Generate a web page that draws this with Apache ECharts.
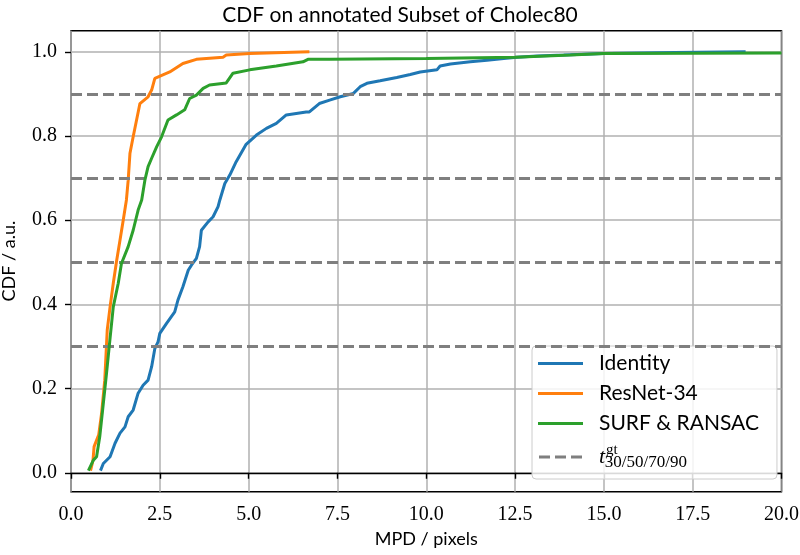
<!DOCTYPE html>
<html><head><meta charset="utf-8">
<script src="https://cdn.jsdelivr.net/npm/echarts@6/dist/echarts.min.js"></script>
<style>html,body{margin:0;padding:0;background:#fff}#c{width:800px;height:555px}</style>
</head><body><div id="c"></div>
<script>
const chartTitle = 'CDF on annotated Subset of Cholec80';
const xAxisName = 'MPD / pixels';
const yAxisName = 'CDF / a.u.';
const seriesNames = ['Identity', 'ResNet-34', 'SURF & RANSAC', 't_gt'];
const seriesColors = ['#1f77b4', '#ff7f0e', '#2ca02c', '#7f7f7f'];

const identityX = [0.83, 0.91, 1.10, 1.24, 1.38, 1.52, 1.61, 1.75, 1.89, 2.03, 2.17, 2.27, 2.36, 2.45, 2.50, 2.69, 2.92, 3.01, 3.15, 3.30, 3.39, 3.53, 3.62, 3.67, 3.86, 4.00, 4.14, 4.19, 4.33, 4.47, 4.65, 4.93, 5.22, 5.50, 5.78, 6.06, 6.62, 6.71, 6.99, 7.28, 7.58, 7.95, 8.14, 8.33, 8.70, 9.17, 9.55, 9.83, 10.30, 10.39, 10.68, 11.24, 11.71, 12.18, 12.55, 13.12, 13.87, 15.0, 17.0, 18.99];
const identityY = [0.005, 0.022, 0.038, 0.070, 0.094, 0.109, 0.133, 0.149, 0.189, 0.208, 0.220, 0.252, 0.295, 0.311, 0.331, 0.355, 0.382, 0.410, 0.442, 0.481, 0.493, 0.509, 0.537, 0.576, 0.596, 0.608, 0.632, 0.648, 0.687, 0.707, 0.739, 0.780, 0.802, 0.818, 0.830, 0.850, 0.857, 0.857, 0.877, 0.885, 0.893, 0.901, 0.917, 0.925, 0.931, 0.939, 0.946, 0.952, 0.957, 0.966, 0.971, 0.976, 0.980, 0.984, 0.987, 0.990, 0.992, 0.996, 0.998, 1.0];

const resnetX = [0.55, 0.62, 0.65, 0.70, 0.78, 0.86, 0.95, 1.02, 1.10, 1.19, 1.28, 1.38, 1.47, 1.56, 1.61, 1.66, 1.75, 1.94, 2.17, 2.27, 2.36, 2.78, 3.15, 3.53, 4.28, 4.37, 5.03, 6.71];
const resnetY = [0.005, 0.030, 0.062, 0.060, 0.090, 0.140, 0.220, 0.339, 0.394, 0.450, 0.501, 0.553, 0.600, 0.648, 0.695, 0.759, 0.798, 0.877, 0.893, 0.909, 0.937, 0.952, 0.972, 0.982, 0.987, 0.992, 0.996, 1.0];

const surfX = [0.49, 0.63, 0.72, 0.81, 0.91, 1.00, 1.10, 1.19, 1.33, 1.42, 1.61, 1.75, 1.89, 1.99, 2.08, 2.17, 2.27, 2.41, 2.55, 2.73, 2.97, 3.20, 3.34, 3.53, 3.72, 3.90, 4.37, 4.56, 5.03, 5.78, 6.53, 6.67, 7.28, 10.0, 12.5, 14.06, 15.0, 20.0];
const surfY = [0.005, 0.030, 0.038, 0.086, 0.165, 0.236, 0.320, 0.394, 0.450, 0.497, 0.537, 0.576, 0.624, 0.648, 0.695, 0.727, 0.747, 0.774, 0.798, 0.838, 0.850, 0.862, 0.889, 0.897, 0.913, 0.921, 0.926, 0.949, 0.957, 0.966, 0.976, 0.982, 0.982, 0.984, 0.987, 0.992, 0.996, 0.997];

const thresholds = [0.3, 0.5, 0.7, 0.9];

const xMin = 0, xMax = 20, xStep = 2.5;
const yTickMin = 0, yTickMax = 1, yStep = 0.2;
const yLimLow = -0.045, yLimHigh = 1.05;

function pairs(xs, ys) { return xs.map((x, i) => [x, ys[i]]); }

const G = { left: 71, right: 18.5, top: 30.7, bottom: 63.3 };
const plotH = 555 - G.top - G.bottom;
const pxPerUnit = plotH / (yLimHigh - yLimLow);
const G2 = {
  left: G.left, right: G.right,
  top: G.top + (yLimHigh - yTickMax) * pxPerUnit,
  bottom: G.bottom + (yTickMin - yLimLow) * pxPerUnit
};

const serif = 'Liberation Serif';
const sans = 'Lato';
const gridColor = '#b0b0b0';
const dashIcon = 'path://M0,0H11V3H0Z M16,0H27V3H16Z M32,0H43V3H32Z';

const chart = echarts.init(document.getElementById('c'), null, { renderer: 'canvas' });

function curve(i, xs, ys) {
  return {
    name: seriesNames[i], type: 'line', xAxisIndex: 0, yAxisIndex: 0,
    data: pairs(xs, ys), showSymbol: false, symbol: 'none',
    lineStyle: { color: seriesColors[i], width: 3 },
    itemStyle: { color: seriesColors[i] },
    z: 3 + i, animation: false
  };
}

chart.setOption({
  backgroundColor: '#fff',
  animation: false,
  title: {
    text: chartTitle, left: 'center', top: 0,
    textStyle: { fontFamily: sans, fontSize: 21, fontWeight: 'normal', color: '#000' }
  },
  grid: [
    Object.assign({ show: true, outerBoundsMode: 'none', containLabel: false, borderColor: '#000', borderWidth: 1.4, backgroundColor: 'transparent' }, G),
    Object.assign({ show: false, outerBoundsMode: 'none', containLabel: false }, G2)
  ],
  xAxis: [{
    type: 'value', gridIndex: 0, min: xMin, max: xMax, interval: xStep,
    name: xAxisName, nameLocation: 'middle', nameGap: 38,
    nameTextStyle: { fontFamily: sans, fontSize: 18, color: '#000' },
    axisLine: { show: true, lineStyle: { color: '#000', width: 1.4 } },
    axisTick: { show: true, length: 6, lineStyle: { color: '#000', width: 1.4 } },
    axisLabel: { formatter: v => v.toFixed(1), fontFamily: serif, fontSize: 20, color: '#000', margin: 13 },
    splitLine: { show: true, lineStyle: { color: gridColor, width: 1.5 } }
  }, {
    type: 'value', gridIndex: 1, min: xMin, max: xMax, show: false
  }],
  yAxis: [{
    type: 'value', gridIndex: 0, min: yLimLow, max: yLimHigh,
    name: yAxisName, nameLocation: 'middle', nameGap: 53,
    nameTextStyle: { fontFamily: sans, fontSize: 18, color: '#000' },
    axisLine: { show: false }, axisTick: { show: false },
    axisLabel: { show: false }, splitLine: { show: false }
  }, {
    type: 'value', gridIndex: 1, min: yTickMin, max: yTickMax, interval: yStep,
    axisLine: { show: false },
    axisTick: { show: true, length: 6, lineStyle: { color: '#000', width: 1.4 } },
    axisLabel: { formatter: v => v.toFixed(1), fontFamily: serif, fontSize: 20, color: '#000', margin: 14 },
    splitLine: { show: true, lineStyle: { color: gridColor, width: 1.5 } }
  }],
  legend: {
    orient: 'vertical', left: 532, top: 346,
    data: seriesNames.map((n, i) => ({ name: n, icon: i === 3 ? dashIcon : 'rect' })),
    itemWidth: 45, itemHeight: 3, itemGap: 9,
    backgroundColor: 'rgba(255,255,255,0.85)',
    borderColor: '#cccccc', borderWidth: 1, borderRadius: 4,
    padding: [7, 18, 8, 6],
    formatter: name => name === 't_gt' ? '{t|t}{sup|gt}{sub|30/50/70/90}' : name,
    textStyle: {
      fontFamily: sans, fontSize: 21, color: '#000', lineHeight: 20, padding: [0, 0, 0, 11],
      rich: {
        t: { fontFamily: serif, fontStyle: 'italic', fontSize: 22, color: '#000', lineHeight: 28, verticalAlign: 'middle' },
        sup: { fontFamily: serif, fontSize: 15, color: '#000', verticalAlign: 'top', padding: [0, 0, 0, 1] },
        sub: { fontFamily: serif, fontSize: 17, color: '#000', verticalAlign: 'bottom', padding: [0, 0, 0, -13] }
      }
    }
  },
  series: [
    curve(0, identityX, identityY),
    curve(1, resnetX, resnetY),
    curve(2, surfX, surfY),
    {
      name: seriesNames[3], type: 'line', xAxisIndex: 0, yAxisIndex: 0, data: [],
      symbol: 'none',
      lineStyle: { color: seriesColors[3], width: 3, type: [11, 5] },
      itemStyle: { color: seriesColors[3] },
      markLine: {
        silent: true, symbol: ['none', 'none'], label: { show: false },
        lineStyle: { color: seriesColors[3], width: 3, type: [11, 5] },
        data: thresholds.map(v => ({ yAxis: v })),
        animation: false
      },
      z: 7
    }
  ]
});
</script></body></html>
